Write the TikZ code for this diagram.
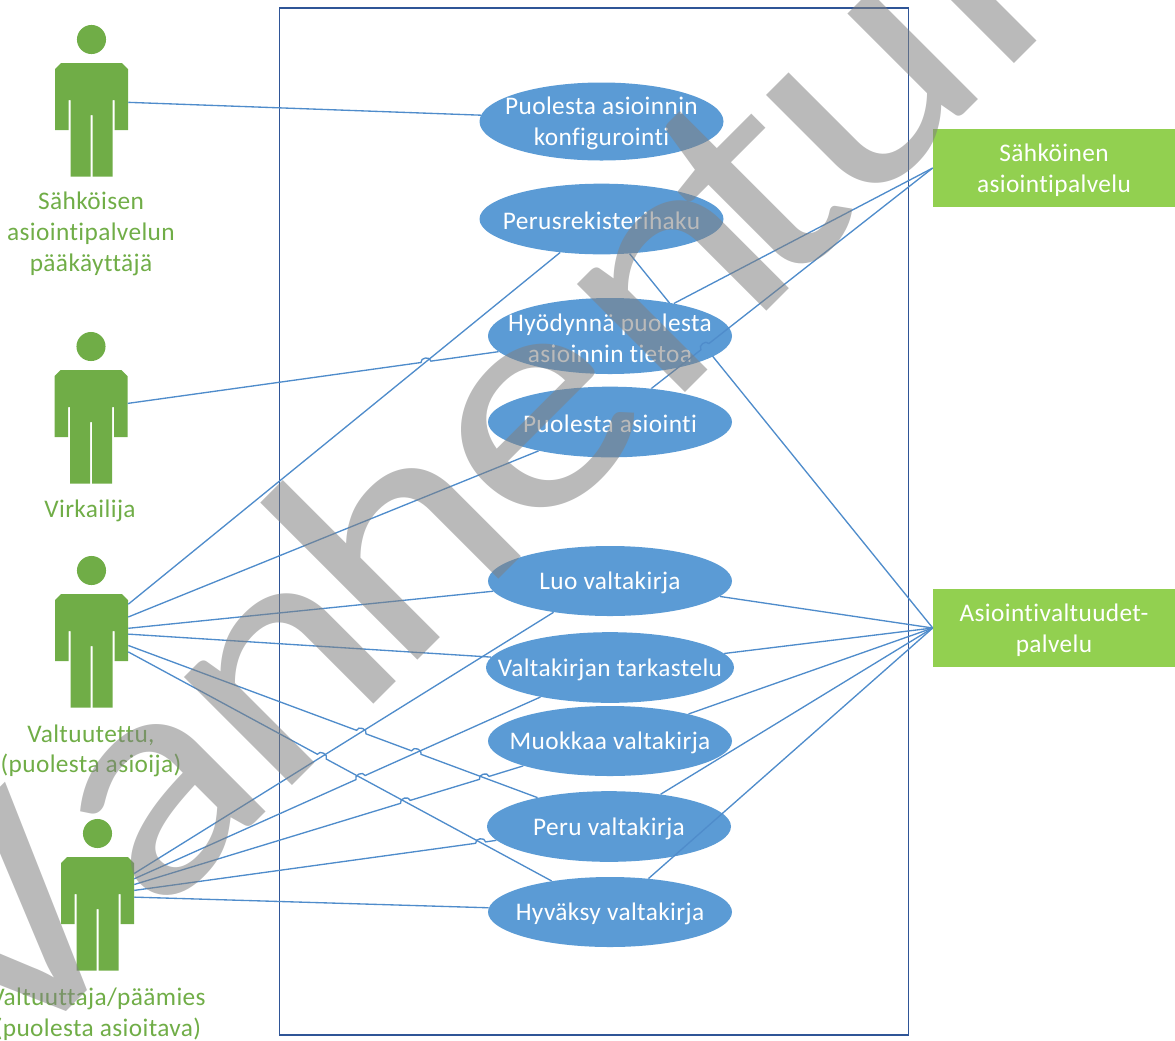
\documentclass[tikz,border=0pt]{standalone}
\usepackage{fontspec}
\setmainfont{Carlito}[Ligatures=NoCommon,LetterSpace=1.5]
\newfontfamily\stampfont{Carlito}
\usetikzlibrary{calc,shapes.geometric}
\definecolor{actorgreen}{HTML}{70AD47}
\definecolor{boxgreen}{HTML}{92D050}
\definecolor{caseblue}{HTML}{5B9BD5}
\definecolor{linkblue}{HTML}{4F8CCB}
\definecolor{framedark}{HTML}{2F5597}
\tikzset{
  usecase/.style={ellipse,fill=caseblue,inner sep=0pt,minimum width=183pt,minimum height=53pt},
  usetext/.style={text=white,align=center,font=\fontsize{19}{23}\selectfont,inner sep=0pt,yshift=-1.5pt},
  actortext/.style={text=actorgreen,align=center,font=\fontsize{19}{23}\selectfont,inner sep=0pt},
  service/.style={fill=boxgreen,inner sep=0pt,minimum width=181.5pt,minimum height=58.5pt},
  link/.style={draw=linkblue,line width=1pt},
  person/.pic={
    \fill[actorgreen] (0,-23.5) circle (10.9pt);
    \node[minimum width=54.75pt,minimum height=85.5pt,inner sep=0pt,anchor=north] (-body) at (0,0) {};
    \fill[actorgreen] (-30.5,0) -- (30.5,0) -- (36.5,6) -- (36.5,67) -- (23,67) -- (23,37) -- (21,37) -- (21,113.5)
      -- (1,113.5) -- (1,52) -- (-1,52) -- (-1,113.5) -- (-21,113.5) -- (-21,37) -- (-23,37) -- (-23,67) -- (-36.5,67)
      -- (-36.5,6) -- cycle;
  }
}
\newcommand{\hoplink}[3]{\draw[link] (#1) \foreach \c in {#3} {-- ($(\c)!3.8pt!(#1)$) to[bend left=90,looseness=1.3] ($(\c)!3.8pt!(#2)$)} -- (#2);}
\begin{document}
\begin{tikzpicture}[x=.75pt,y=-.75pt]
  \useasboundingbox (0,0) rectangle (1175,1040);
  % system frame
  \node[draw=framedark,line width=1.4pt,inner sep=0pt,minimum width=471.75pt,minimum height=770.25pt] (frame) at (594,521.5) {};

  % actors
  \pic (sa) at (91.5,63) {person};
  \pic (vi) at (91,370) {person};
  \pic (vt) at (91.5,594) {person};
  \pic (pm) at (97.5,857) {person};
  \node[actortext] (salabel) at (91,234) {Sähköisen\\asiointipalvelun\\pääkäyttäjä};
  \node[actortext] (vilabel) at (90,511) {Virkailija};
  \node[actortext] (vtlabel) at (91,751) {Valtuutettu,\\(puolesta asioija)};
  \node[actortext] (pmlabel) at (98,1014) {Valtuuttaja/päämies\\(puolesta asioitava)};

  % services
  \node[service,label={[usetext]center:Sähköinen\\asiointipalvelu}] (sahk) at (1054,168) {};
  \node[service,label={[usetext]center:Asiointivaltuudet-\\palvelu}] (asv) at (1054,628) {};

  % use cases
  \node[usecase,label={[usetext]center:Perusrekisterihaku}] (perus) at (601.5,219) {};
  \draw[link] (perus.-51.6) -- (asv.west);
  \node[usecase,minimum height=58.5pt,label={[usetext]center:Puolesta asioinnin\\konfigurointi}] (konf) at (601.5,121.5) {};
  \node[usecase,minimum height=57pt,label={[usetext]center:Hyödynnä puolesta\\asioinnin tietoa}] (hyod) at (610,336) {};
  \node[usecase,label={[usetext]center:Puolesta asiointi}] (puol) at (610,422) {};
  \node[usecase,minimum height=52.5pt,label={[usetext]center:Luo valtakirja}] (luo) at (610,581) {};
  \node[usecase,minimum width=186pt,label={[usetext]center:Valtakirjan tarkastelu}] (tark) at (610,667.5) {};
  \node[usecase,minimum height=52.5pt,label={[usetext]center:Muokkaa valtakirja}] (muok) at (610,741) {};
  \node[usecase,label={[usetext]center:Peru valtakirja}] (peru) at (609,826.5) {};
  \node[usecase,minimum height=52.5pt,label={[usetext]center:Hyväksy valtakirja}] (hyva) at (610,912) {};

  % crossings
  \coordinate (x1) at (intersection cs:first line={(vi-body.33.3)--(hyod.188.1)},second line={(vt-body.52.8)--(perus.219.5)});
  \coordinate (x2) at (intersection cs:first line={(puol.39.1)--(sahk.west)},second line={(perus.-51.6)--(asv.west)});
  \coordinate (x3) at (intersection cs:first line={(vt-body.9.3)--(peru.158.8)},second line={(pm-body.48.3)--(luo.209.9)});
  \coordinate (x4) at (intersection cs:first line={(vt-body.9.3)--(peru.158.8)},second line={(pm-body.44.6)--(tark.203.7)});
  \coordinate (x5) at (intersection cs:first line={(vt-body.-1.6)--(hyva.152.3)},second line={(pm-body.48.3)--(luo.209.9)});
  \coordinate (x6) at (intersection cs:first line={(pm-body.44.6)--(tark.203.7)},second line={(vt-body.-1.6)--(hyva.152.3)});
  \coordinate (x7) at (intersection cs:first line={(pm-body.39.4)--(muok.196.8)},second line={(vt-body.-1.6)--(hyva.152.3)});
  \coordinate (x8) at (intersection cs:first line={(pm-body.39.4)--(muok.196.8)},second line={(vt-body.9.3)--(peru.158.8)});
  \coordinate (x9) at (intersection cs:first line={(pm-body.33.3)--(peru.187.3)},second line={(vt-body.-1.6)--(hyva.152.3)});

  % actor links
  \draw[link] (sa-body.26.2) -- (konf.177.9);
  \hoplink{vi-body.33.3}{hyod.188.1}{x1}
  \draw[link] (vt-body.52.8) -- (perus.219.5);
  \draw[link] (vt-body.43) -- (puol.202.3);
  \draw[link] (vt-body.32.2) -- (luo.185.4);
  \draw[link] (vt-body.25) -- (tark.175.6);
  \hoplink{vt-body.9.3}{peru.158.8}{x3,x4}
  \hoplink{vt-body.-1.6}{hyva.152.3}{x5}
  \draw[link] (pm-body.48.3) -- (luo.209.9);
  \hoplink{pm-body.44.6}{tark.203.7}{x6}
  \hoplink{pm-body.39.4}{muok.196.8}{x7,x8}
  \hoplink{pm-body.33.3}{peru.187.3}{x9}
  \draw[link] (pm-body.25) -- (hyva.178.1);

  % service links
  \draw[link] (hyod.27.6) -- (sahk.west);
  \hoplink{puol.39.1}{sahk.west}{x2}
  \draw[link] (luo.-8.3) -- (asv.west);
  \draw[link] (tark.7.2) -- (asv.west);
  \draw[link] (muok.19.5) -- (asv.west);
  \draw[link] (peru.32.3) -- (asv.west);
  \draw[link] (hyva.41.9) -- (asv.west);

  % watermark
  \node[rotate=45,xscale=1.16,anchor=base west,inner sep=0pt,text=black!50,text opacity=.54,font=\stampfont\fontsize{240}{240}\selectfont] (stamp) at (2,1076) {V\kern5pt a\kern-7pt n\kern-12pt h\kern-6pt e\kern6pt n\kern-26pt t\kern-6pt unut};
\end{tikzpicture}
\end{document}
